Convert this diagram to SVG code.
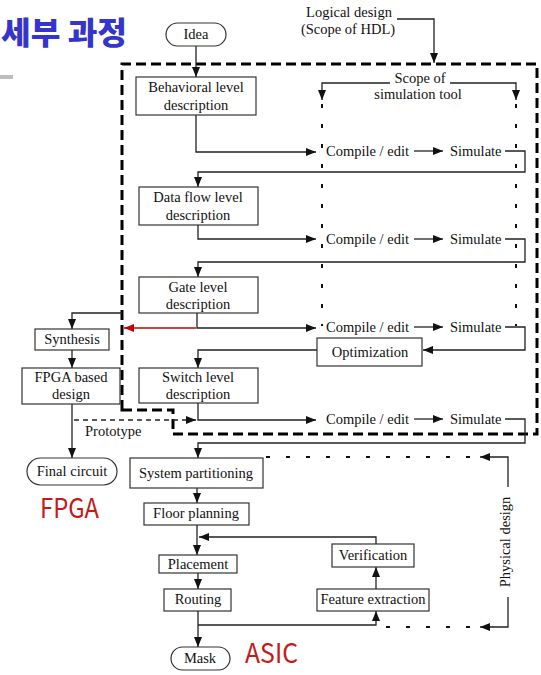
<svg xmlns="http://www.w3.org/2000/svg" width="541" height="675" viewBox="0 0 541 675">
  <defs>
    <marker id="arr" viewBox="0 0 10 8" refX="10" refY="4" markerWidth="10" markerHeight="8" markerUnits="userSpaceOnUse" orient="auto">
      <path d="M0,0 L10,4 L0,8 z" fill="#111"/>
    </marker>
    <marker id="arr-red" viewBox="0 0 10 8" refX="10" refY="4" markerWidth="10" markerHeight="8" markerUnits="userSpaceOnUse" orient="auto">
      <path d="M0,0 L10,4 L0,8 z" fill="#c00000"/>
    </marker>
    <style>
      .box { fill: #fff; stroke: #333; stroke-width: 1.2; }
      .t { font-family: "Liberation Serif", "Times New Roman", serif; font-size: 14.5px; fill: #111; text-anchor: middle; }
      .tl { font-family: "Liberation Serif", "Times New Roman", serif; font-size: 14.5px; fill: #111; }
      .ln { fill: none; stroke: #222; stroke-width: 1.3; }
      .arw { marker-end: url(#arr); }
      .dot { fill: none; stroke: #111; stroke-width: 2; stroke-dasharray: 4 16; }
      .scope { fill: none; stroke: #000; stroke-width: 3; stroke-dasharray: 10 5; }
      .proto { fill: none; stroke: #222; stroke-width: 1.3; stroke-dasharray: 5 4; }
      .red { font-family: "Noto Sans CJK KR", "Liberation Sans", sans-serif; font-size: 27px; fill: #c41a1a; }
    </style>
  </defs>

  <!-- heading -->
  <text x="1" y="44" font-family="Noto Sans CJK KR, sans-serif" font-size="31" font-weight="900" fill="#3535cc" textLength="126" lengthAdjust="spacingAndGlyphs">세부 과정</text>
  <rect x="0" y="75" width="13" height="4" fill="#bdbdbd"/>

  <!-- HDL scope boundary -->
  <path class="scope" d="M122,410 V64 H537 V434 H173 V410 Z"/>

  <!-- connectors -->
  <g id="connectors">
    <path class="ln arw" d="M196,46 V77"/>
    <path class="ln arw" d="M397,19 H434 V63"/>
    <path class="ln arw" d="M390,83 H322 V100"/>
    <path class="ln arw" d="M450,83 H516 V100"/>
    <path class="dot" d="M322,104 V326"/>
    <path class="dot" d="M516,104 V326"/>

    <!-- behavioral -->
    <path class="ln arw" d="M196,115 V152 H316"/>
    <path class="ln arw" d="M414,151 H443"/>
    <path class="ln arw" d="M505,151 H525 V172 H198 V187"/>
    <!-- data flow -->
    <path class="ln arw" d="M198,225 V239 H316"/>
    <path class="ln arw" d="M414,239 H443"/>
    <path class="ln arw" d="M505,239 H525 V262 H198 V277"/>
    <!-- gate -->
    <path class="ln arw" d="M197,313 V328 H316"/>
    <path fill="none" stroke="#c00000" stroke-width="1.6" marker-end="url(#arr-red)" d="M196,328 H124"/>
    <path class="ln arw" d="M414,327 H443"/>
    <path class="ln arw" d="M505,327 H525 V350 H423"/>
    <path class="ln arw" d="M317,350 H198 V368"/>
    <!-- switch -->
    <path class="ln arw" d="M198,403 V420 H316"/>
    <path class="ln arw" d="M414,419 H443"/>
    <path class="ln arw" d="M505,419 H525 V443 H198 V458"/>

    <!-- FPGA branch -->
    <path class="ln arw" d="M122,313 H72 V329"/>
    <path class="ln arw" d="M72,350 V368"/>
    <path class="ln arw" d="M72,404 V458"/>
    <path class="proto arw" d="M74,420 H196"/>

    <!-- ASIC flow -->
    <path class="ln arw" d="M197,488 V503"/>
    <path class="ln arw" d="M197,525 V555"/>
    <path class="ln arw" d="M376,544 V537 H199"/>
    <path class="ln arw" d="M198,573 V589"/>
    <path class="ln arw" d="M198,611 V647"/>
    <path class="ln arw" d="M198,625 H376 V611"/>
    <path class="ln arw" d="M376,589 V567"/>

    <!-- physical design scope -->
    <path class="ln arw" d="M508,487 V457 H480"/>
    <path class="dot" d="M470,457 H263"/>
    <path class="ln arw" d="M508,597 V627 H480"/>
    <path class="dot" d="M470,627 H376"/>
  </g>

  <!-- labels -->
  <text class="t" x="349" y="17">Logical design</text>
  <text class="t" x="348" y="34">(Scope of HDL)</text>
  <text class="t" x="420" y="83">Scope of</text>
  <text class="t" x="418" y="99">simulation tool</text>
  <text class="tl" x="85" y="436">Prototype</text>
  <text class="t" transform="translate(510,542) rotate(-90)">Physical design</text>

  <g id="idea">
    <rect class="box" x="166" y="23" width="60" height="23" rx="11.5"/>
    <text class="t" x="196" y="39">Idea</text>
  </g>
  <g id="behavioral">
    <rect class="box" x="136" y="77" width="120" height="38"/>
    <text class="t" x="196" y="92">Behavioral level</text>
    <text class="t" x="196" y="110">description</text>
  </g>
  <g id="dataflow">
    <rect class="box" x="139" y="187" width="119" height="38"/>
    <text class="t" x="198" y="202">Data flow level</text>
    <text class="t" x="198" y="220">description</text>
  </g>
  <g id="gate">
    <rect class="box" x="139" y="277" width="119" height="36"/>
    <text class="t" x="198" y="292">Gate level</text>
    <text class="t" x="198" y="309">description</text>
  </g>
  <g id="switch">
    <rect class="box" x="139" y="368" width="119" height="35"/>
    <text class="t" x="198" y="382">Switch level</text>
    <text class="t" x="198" y="399">description</text>
  </g>

  <g id="compile1"><text class="tl" x="326" y="156">Compile / edit</text></g>
  <g id="simulate1"><text class="tl" x="450" y="156">Simulate</text></g>
  <g id="compile2"><text class="tl" x="326" y="244">Compile / edit</text></g>
  <g id="simulate2"><text class="tl" x="450" y="244">Simulate</text></g>
  <g id="compile3"><text class="tl" x="326" y="332">Compile / edit</text></g>
  <g id="simulate3"><text class="tl" x="450" y="332">Simulate</text></g>
  <g id="compile4"><text class="tl" x="326" y="424">Compile / edit</text></g>
  <g id="simulate4"><text class="tl" x="450" y="424">Simulate</text></g>

  <g id="optimization">
    <rect class="box" x="317" y="338" width="105" height="28"/>
    <text class="t" x="370" y="357">Optimization</text>
  </g>

  <g id="synthesis">
    <rect class="box" x="35" y="329" width="74" height="21"/>
    <text class="t" x="72" y="344">Synthesis</text>
  </g>
  <g id="fpga-design">
    <rect class="box" x="22" y="368" width="98" height="36"/>
    <text class="t" x="71" y="382">FPGA based</text>
    <text class="t" x="71" y="399">design</text>
  </g>
  <g id="final-circuit">
    <rect class="box" x="27" y="458" width="90" height="27" rx="13.5"/>
    <text class="t" x="72" y="476">Final circuit</text>
  </g>

  <g id="partitioning">
    <rect class="box" x="130" y="458" width="133" height="30"/>
    <text class="t" x="196" y="478">System partitioning</text>
  </g>
  <g id="floor">
    <rect class="box" x="144" y="503" width="105" height="22"/>
    <text class="t" x="196" y="518">Floor planning</text>
  </g>
  <g id="placement">
    <rect class="box" x="159" y="555" width="78" height="18"/>
    <text class="t" x="198" y="569">Placement</text>
  </g>
  <g id="routing">
    <rect class="box" x="164" y="589" width="67" height="22"/>
    <text class="t" x="198" y="604">Routing</text>
  </g>
  <g id="mask">
    <rect class="box" x="171" y="647" width="59" height="23" rx="11.5"/>
    <text class="t" x="200" y="663">Mask</text>
  </g>
  <g id="verification">
    <rect class="box" x="332" y="544" width="82" height="23"/>
    <text class="t" x="373" y="560">Verification</text>
  </g>
  <g id="feature">
    <rect class="box" x="317" y="589" width="112" height="22"/>
    <text class="t" x="373" y="604">Feature extraction</text>
  </g>

  <text class="red" x="40" y="518" textLength="59" lengthAdjust="spacingAndGlyphs">FPGA</text>
  <text class="red" x="245" y="663" textLength="53" lengthAdjust="spacingAndGlyphs">ASIC</text>
</svg>
